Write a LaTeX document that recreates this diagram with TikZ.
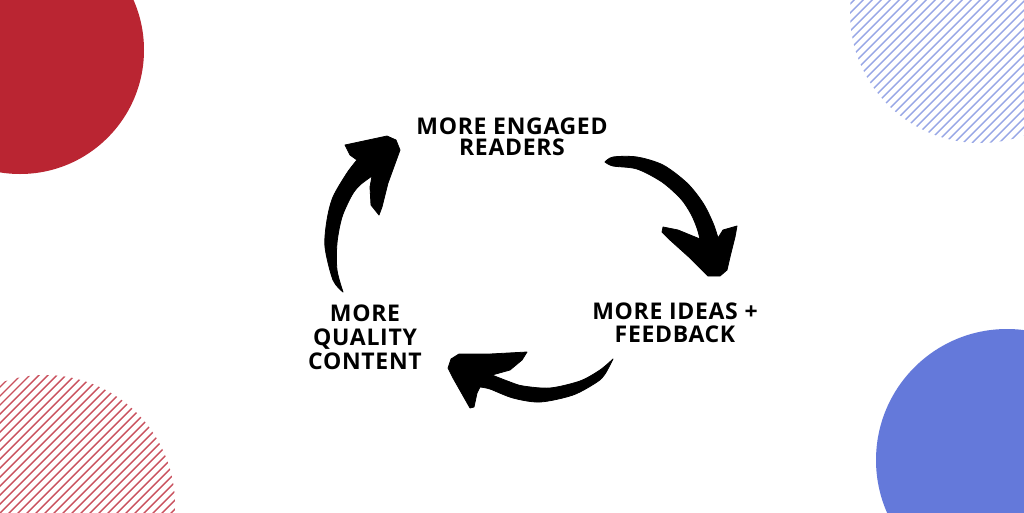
\documentclass[tikz,border=0pt]{standalone}
\usepackage{fontspec}
\setmainfont{Open Sans}[LetterSpace=3]
\definecolor{discred}{HTML}{BA2532}
\definecolor{discblue}{HTML}{6479DA}
\definecolor{hatchred}{HTML}{C9505D}
\definecolor{hatchblue}{HTML}{97A6E6}
\tikzset{
  label/.style={inner sep=0pt, align=center, anchor=north, text=black,
    font=\bfseries\fontsize{23}{23.5}\selectfont},
  brush/.style={fill=black, draw=black, line width=0.8pt, line join=round}
}
\begin{document}
\begin{tikzpicture}[x=1pt,y=-1pt]
\useasboundingbox[fill=white] (0,0) rectangle (1024,512);
% solid discs
\fill[discred] (20,50) circle (124);
\fill[discblue] (1007,460) circle (131);
% hatched discs
\begin{scope}
  \clip (980,13) circle (130);
  \foreach \c in {800,809,...,1200}
    \draw[hatchblue, line width=1.4pt] (\c+200,-200) -- (\c-200,200);
\end{scope}
\begin{scope}
  \clip (45,505) circle (130);
  \foreach \c in {360,369,...,750}
    \draw[hatchred, line width=1.4pt] (\c-800,800) -- (\c+100,-100);
\end{scope}
% labels
\node[label, font=\bfseries\fontsize{23}{21}\selectfont] (readers) at (512,117.5) {MORE ENGAGED\\READERS};
\node[label] (ideas) at (675,302.5) {MORE IDEAS +\\FEEDBACK};
\node[label, font=\bfseries\fontsize{23}{24}\selectfont] (content) at (365,304.5) {MORE\\QUALITY\\CONTENT};
% arrow: content -> readers
\fill[brush] plot[smooth] coordinates {(343,292) (333,280) (325,247) (327,220) (333,197) (347,173) (357,160)}
  -- (350,155) -- (345,145) -- (387,136) -- (396,140) -- (400,150) -- (388,183) -- (382,207) -- (379,215)
  -- (371,205) -- (370,187)
  -- plot[smooth] coordinates {(372,176) (360,185) (352,195) (342,217) (337,243) (337,270) (343,292)} -- cycle;
% arrow: readers -> ideas
\fill[brush] plot[smooth] coordinates {(605,162) (613,157) (637,157) (663,165) (687,183) (703,203) (713,223) (718,238)}
  -- (723,230) -- (737,226) -- (735,237) -- (730,257) -- (727,270) -- (720,276) -- (708,276)
  -- (690,258) -- (670,240) -- (662,232) -- (663,227) -- (678,230) -- (700,239)
  -- plot[smooth] coordinates {(700,239) (697,228) (691,214) (681,199) (662,182) (637,169) (613,166) (605,162)} -- cycle;
% arrow: ideas -> content
\fill[brush] plot[smooth] coordinates {(613,359) (605,374) (597,382) (573,395) (540,402) (513,398) (490,389) (480,387)}
  -- (477,393) -- (474,407) -- (470,408) -- (453,378) -- (448,368) -- (451,359) -- (459,354)
  -- (490,354) -- (527,352) -- (522,360) -- (510,370) -- (492,375)
  -- plot[smooth] coordinates {(492,375) (510,382) (523,386) (550,388) (580,381) (600,370) (613,359)} -- cycle;
\end{tikzpicture}
\end{document}
